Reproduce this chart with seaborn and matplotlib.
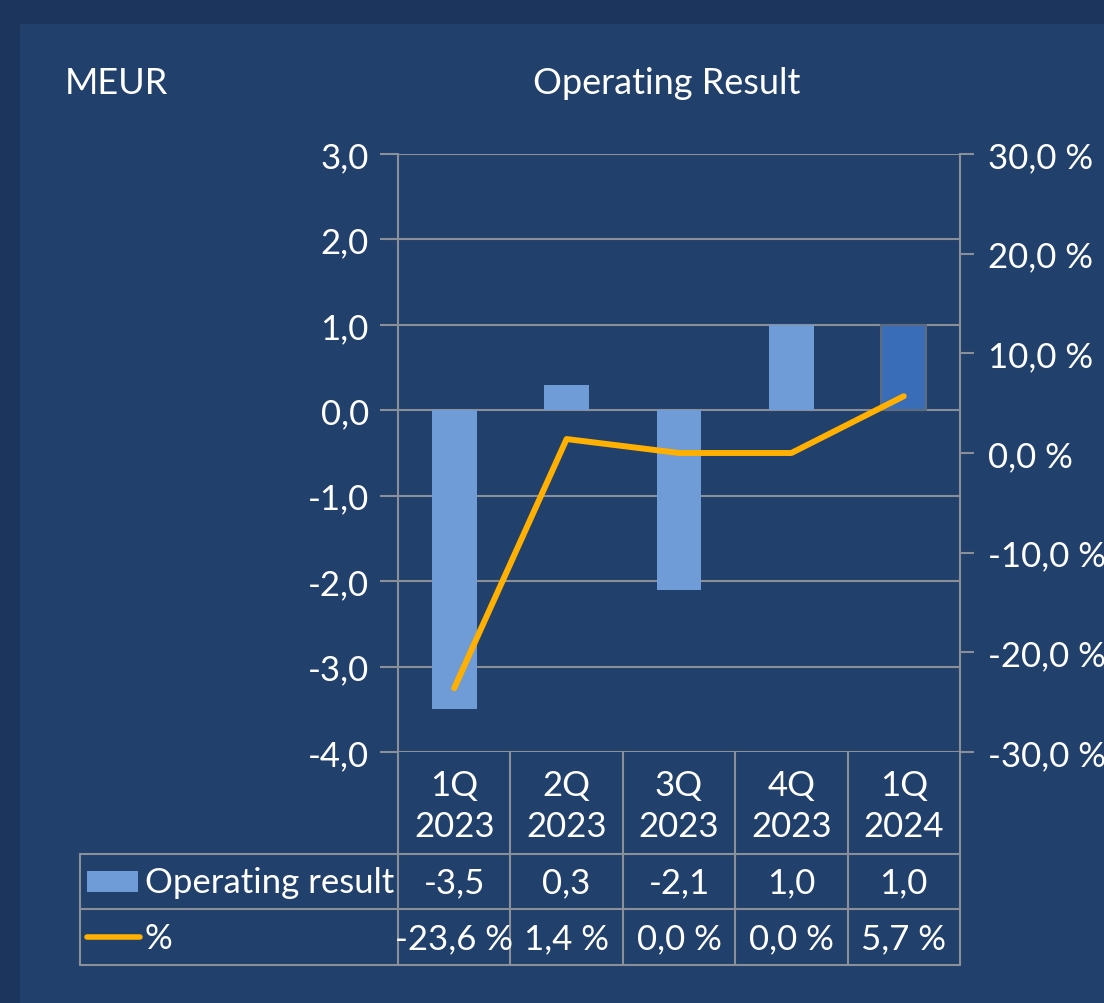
import numpy as np
import matplotlib
matplotlib.use("Agg")
import matplotlib.pyplot as plt
import matplotlib.transforms as mtransforms
from matplotlib.patches import Rectangle
from matplotlib.lines import Line2D
import seaborn as sns

# data
quarters = ["1Q\n2023", "2Q\n2023", "3Q\n2023", "4Q\n2023", "1Q\n2024"]
operating_result = [-3.5, 0.3, -2.1, 1.0, 1.0]
pct = [-23.6, 1.4, 0.0, 0.0, 5.7]
left_ticks = [3.0, 2.0, 1.0, 0.0, -1.0, -2.0, -3.0, -4.0]
right_ticks = [30.0, 20.0, 10.0, 0.0, -10.0, -20.0, -30.0]

BG = "#1b355c"
PANEL = "#21406b"
BAR = "#6f9bd6"
BAR_LAST = "#3a6db8"
LINE = "#ffb000"
GRID = "#8a8f98"
TXT = "white"

sns.set_theme(style="white")
plt.rcParams["font.family"] = ["Lato", "DejaVu Sans"]
FS = 25

fig = plt.figure(figsize=(11.04, 10.04), dpi=100, facecolor=BG)
W, H = 1104, 1004
fig.add_artist(Rectangle((20 / W, 0), 1 - 20 / W, 1 - 25 / H, transform=fig.transFigure,
                         facecolor=PANEL, edgecolor="none", zorder=0))

ax = fig.add_axes([398 / W, 1 - 753 / H, (960 - 398) / W, (753 - 155) / H])
ax.set_facecolor("none")

x = np.arange(len(quarters))
colors = [BAR] * (len(quarters) - 1) + [BAR_LAST]
sns.barplot(x=x, y=operating_result, hue=x, palette=colors, legend=False,
            width=0.4, ax=ax, zorder=3, saturation=1, linewidth=0, edgecolor="none")
ax.patches[-1].set_edgecolor("#5d6b7e")
ax.patches[-1].set_linewidth(1.5)

ax.set_xlim(-0.5, len(quarters) - 0.5)
ax.set_ylim(-4.0, 3.0)
ax.set_yticks(left_ticks)
ax.set_yticklabels([f"{v:.1f}".replace(".", ",") for v in left_ticks], color=TXT, fontsize=FS)
ax.set_xticks([])
ax.grid(axis="y", color=GRID, linewidth=1.5, zorder=1)
ax.tick_params(axis="y", length=13, width=1.5, color=GRID, pad=8, left=True)
for s in ["top", "bottom"]:
    ax.spines[s].set_visible(False)
ax.spines["left"].set_color(GRID)
ax.spines["left"].set_linewidth(1.5)
ax.spines["right"].set_visible(False)
ax.set_xlabel("")
ax.set_ylabel("")

ax2 = ax.twinx()
sns.lineplot(x=x, y=pct, color=LINE, linewidth=4.3, ax=ax2, zorder=4)
ax2.set_ylim(-30, 30)
ax2.set_yticks(right_ticks)
ax2.set_yticklabels([f"{v:.1f} %".replace(".", ",") for v in right_ticks], color=TXT, fontsize=FS)
ax2.tick_params(axis="y", length=10, width=1.5, color=GRID, pad=10, right=True)
for s in ["top", "bottom", "left"]:
    ax2.spines[s].set_visible(False)
ax2.spines["right"].set_color(GRID)
ax2.spines["right"].set_linewidth(1.5)
ax2.set_xlabel("")
ax2.set_ylabel("")

# data table under the axis
tr = mtransforms.blended_transform_factory(ax.transData, ax.transAxes)
ph = 753 - 155
def ay(py):
    return (753 - py) / ph

x_left = -0.5 - (398 - 80) / ((960 - 398) / len(quarters))
n = len(quarters)
for b in np.arange(-0.5, n, 1.0):
    ax.add_line(Line2D([b, b], [0, ay(966)], transform=tr, color=GRID, lw=1.5, clip_on=False))
ax.add_line(Line2D([x_left, x_left], [ay(855), ay(966)], transform=tr, color=GRID, lw=1.5, clip_on=False))
for py in [855, 910, 966]:
    ax.add_line(Line2D([x_left, n - 0.5], [ay(py), ay(py)], transform=tr, color=GRID, lw=1.5, clip_on=False))

for i, q in enumerate(quarters):
    top, bottom = q.split("\n")
    ax.text(i, ay(786), top, transform=tr, ha="center", va="center", color=TXT, fontsize=FS)
    ax.text(i, ay(827), bottom, transform=tr, ha="center", va="center", color=TXT, fontsize=FS)
    ax.text(i, ay(883), f"{operating_result[i]:.1f}".replace(".", ","), transform=tr,
            ha="center", va="center", color=TXT, fontsize=FS)
    ax.text(i, ay(939), f"{pct[i]:.1f} %".replace(".", ","), transform=tr,
            ha="center", va="center", color=TXT, fontsize=FS)

fig.add_artist(Rectangle((87 / W, 1 - 893 / H), 51 / W, 21 / H, transform=fig.transFigure,
                         facecolor=BAR, edgecolor="none"))
fig.add_artist(Line2D([87 / W, 140 / W], [1 - 938 / H, 1 - 938 / H], transform=fig.transFigure,
                      color=LINE, lw=4, solid_capstyle="round"))
fig.text(145 / W, 1 - 883 / H, "Operating result", color=TXT, fontsize=FS, ha="left", va="center")
fig.text(145 / W, 1 - 939 / H, "%", color=TXT, fontsize=FS, ha="left", va="center")

fig.text(65 / W, 1 - 83 / H, "MEUR", color=TXT, fontsize=26, ha="left", va="center")
fig.text(667 / W, 1 - 83 / H, "Operating Result", color=TXT, fontsize=26, ha="center", va="center")

fig.savefig("out.png", dpi=100, facecolor=BG)
